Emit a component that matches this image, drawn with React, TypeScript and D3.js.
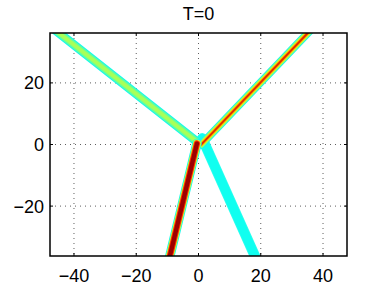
import { useEffect, useRef } from 'react';
import * as d3 from 'd3';

// arm end points (data units), each arm runs from the junction out past the frame
const armNames = ['cyanArm', 'upperLeft', 'upperRight', 'lowerLeft'];
const armX0 = [1.2, -1.0, 0.9, -0.5];
const armY0 = [2.0, 1.3, 0.0, 0.3];
const armX1 = [19.8, -49.6, 38.7, -10.1];
const armY1 = [-40, 40, 40, -40];

const xTicks = [-40, -20, 0, 20, 40];
const yTicks = [-20, 0, 20];

// stroke layers per arm, outer to inner: [width, colour]
const armLayers: Record<string, [number, string][]> = {
  cyanArm: [[10.5, '#30fff0'], [9, '#10fff0']],
  upperLeft: [[9, '#10f8f0'], [7, '#60ffa0'], [4, '#a8ff58']],
  upperRight: [[8, '#10f8f0'], [6.5, '#80ff80'], [4.5, '#f0f000'], [3, '#ff9000'], [1.8, '#e02800']],
  lowerLeft: [[9.5, '#10f8f0'], [8, '#c8ff38'], [6.3, '#ff3000'], [4.3, '#9c0000']],
};

export default function App() {
  const svgRef = useRef<SVGSVGElement>(null);

  useEffect(() => {
    if (!svgRef.current) return;
    const svg = d3.select(svgRef.current);
    svg.selectAll('*').remove();

    const left = 50, right = 347, top = 33, bottom = 256;
    const x = d3.scaleLinear().domain([-47.7, 47.7]).range([left, right]);
    const y = d3.scaleLinear().domain([-36.2, 36.2]).range([bottom, top]);

    svg.attr('width', 384).attr('height', 288);
    svg.append('rect').attr('width', 384).attr('height', 288).attr('fill', '#fff');

    svg.append('defs').append('clipPath').attr('id', 'plotclip')
      .append('rect')
      .attr('x', left).attr('y', top)
      .attr('width', right - left).attr('height', bottom - top);

    // dotted grid
    const grid = svg.append('g').attr('stroke', '#333').attr('stroke-width', 0.8)
      .attr('stroke-dasharray', '1,4');
    grid.selectAll('.gx').data(xTicks).enter().append('line')
      .attr('x1', d => x(d)).attr('x2', d => x(d))
      .attr('y1', top).attr('y2', bottom);
    grid.selectAll('.gy').data(yTicks).enter().append('line')
      .attr('y1', d => y(d)).attr('y2', d => y(d))
      .attr('x1', left).attr('x2', right);

    const line = d3.line<[number, number]>().x(d => x(d[0])).y(d => y(d[1]));
    const arms = svg.append('g').attr('clip-path', 'url(#plotclip)');
    armNames.forEach((name, i) => {
      const pts: [number, number][] = [[armX0[i], armY0[i]], [armX1[i], armY1[i]]];
      armLayers[name].forEach(([w, c]) => {
        arms.append('path')
          .attr('d', line(pts))
          .attr('fill', 'none')
          .attr('stroke', c)
          .attr('stroke-width', w)
          .attr('stroke-linecap', 'round');
      });
    });

    // frame with inward ticks
    svg.append('rect')
      .attr('x', left).attr('y', top)
      .attr('width', right - left).attr('height', bottom - top)
      .attr('fill', 'none').attr('stroke', '#000').attr('stroke-width', 1.5);

    const ticks = svg.append('g').attr('stroke', '#000').attr('stroke-width', 1);
    xTicks.forEach(t => {
      ticks.append('line').attr('x1', x(t)).attr('x2', x(t)).attr('y1', bottom).attr('y2', bottom - 3);
      ticks.append('line').attr('x1', x(t)).attr('x2', x(t)).attr('y1', top).attr('y2', top + 3);
    });
    yTicks.forEach(t => {
      ticks.append('line').attr('y1', y(t)).attr('y2', y(t)).attr('x1', left).attr('x2', left + 3);
      ticks.append('line').attr('y1', y(t)).attr('y2', y(t)).attr('x1', right).attr('x2', right - 3);
    });

    const font = 'Liberation Sans, Arial, sans-serif';
    svg.selectAll('.xl').data(xTicks).enter().append('text')
      .attr('x', d => x(d)).attr('y', 282)
      .attr('text-anchor', 'middle')
      .style('font-family', font).style('font-size', '18px')
      .text(d => (d < 0 ? '\u2212' + Math.abs(d) : String(d)));
    svg.selectAll('.yl').data(yTicks).enter().append('text')
      .attr('x', 44).attr('y', d => y(d) + 6.5)
      .attr('text-anchor', 'end')
      .style('font-family', font).style('font-size', '18px')
      .text(d => (d < 0 ? '\u2212' + Math.abs(d) : String(d)));

    svg.append('text')
      .attr('x', (left + right) / 2).attr('y', 20)
      .attr('text-anchor', 'middle')
      .style('font-family', font).style('font-size', '18px')
      .text('T=0');
  }, []);

  return <svg ref={svgRef} style={{ position: 'absolute', left: 0, top: 0 }}></svg>;
}
